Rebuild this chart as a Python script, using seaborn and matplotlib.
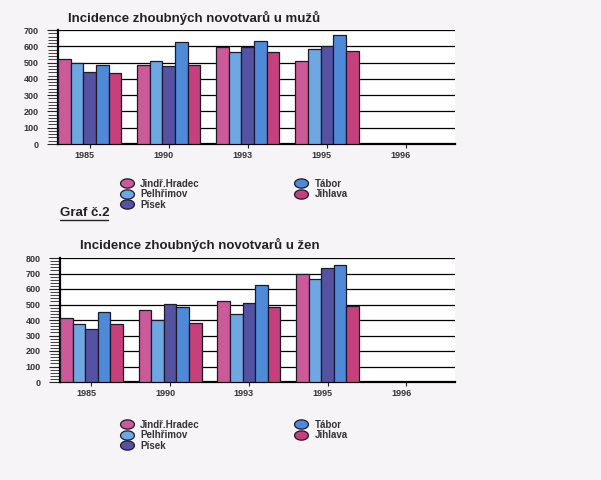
import numpy as np
import pandas as pd
import seaborn as sb
import matplotlib.pyplot as plt
import matplotlib.transforms as mtransforms
from matplotlib.lines import Line2D
from matplotlib.path import Path

years = ['1985', '1990', '1993', '1995', '1996']
districts = ['Jindř.Hradec', 'Pelhřimov', 'Písek', 'Tábor', 'Jihlava']
colors = ['#cc5a98', '#6ea8e2', '#5552a4', '#4e8ad8', '#c6407c']

# values per district, years 1985, 1990, 1993, 1995 (1996 empty)
men_jh = [524, 488, 594, 512]
men_pe = [498, 510, 563, 586]
men_pi = [443, 482, 596, 600]
men_ta = [484, 624, 635, 671]
men_ji = [437, 488, 565, 573]

women_jh = [414, 462, 523, 697]
women_pe = [372, 402, 438, 665]
women_pi = [342, 504, 508, 735]
women_ta = [449, 483, 628, 756]
women_ji = [372, 378, 483, 491]

def long_df(series):
    rows = []
    for name, vals in zip(districts, series):
        for y, v in zip(years, vals):
            rows.append({'Rok': y, 'Okres': name, 'Incidence': v})
    return pd.DataFrame(rows)

df_men = long_df([men_jh, men_pe, men_pi, men_ta, men_ji])
df_women = long_df([women_jh, women_pe, women_pi, women_ta, women_ji])

sb.set_style('white')
plt.rcParams['font.family'] = ['Liberation Sans', 'DejaVu Sans']

fig = plt.figure(figsize=(6.01, 4.8), dpi=100)
fig.patch.set_facecolor('#f6f4f7')

ax1 = fig.add_axes([58 / 601, 1 - 144 / 480, 397 / 601, 114 / 480])
ax2 = fig.add_axes([60 / 601, 1 - 382 / 480, 395 / 601, 124 / 480])

def draw(ax, df, ymax):
    sb.barplot(data=df, x='Rok', y='Incidence', hue='Okres', order=years,
               hue_order=districts, palette=colors, saturation=1,
               edgecolor='#1a1a2a', linewidth=0.9, legend=False, ax=ax,
               zorder=3)
    ax.set_facecolor('white')
    ax.set_xlim(-0.4, 4.62)
    ax.set_ylim(0, ymax)
    ax.set_yticks(np.arange(0, ymax + 1, 100))
    ax.set_yticks(np.arange(0, ymax + 1, 20), minor=True)
    ax.yaxis.grid(True, color='black', linewidth=0.9, zorder=0)
    ax.set_axisbelow(True)
    ax.set_xlabel('')
    ax.set_ylabel('')
    for s in ['top', 'right']:
        ax.spines[s].set_visible(False)
    ax.spines['left'].set_linewidth(1.6)
    ax.spines['bottom'].set_linewidth(1.6)
    ax.spines['left'].set_color('black')
    ax.spines['bottom'].set_color('black')
    ax.tick_params(axis='y', which='major', length=8, width=0.8, labelsize=6.5,
                   pad=6, left=True, direction='out')
    ax.tick_params(axis='y', which='minor', length=7, width=0.6, left=True,
                   direction='out')
    ax.tick_params(axis='x', length=3, width=0.8, labelsize=6.5, pad=2,
                   bottom=True, direction='out')
    off = mtransforms.ScaledTranslation(-5 / 100, 0, fig.dpi_scale_trans)
    for lab in ax.get_xticklabels():
        lab.set_transform(lab.get_transform() + off)
        lab.set_fontweight('bold')
        lab.set_color('#333333')
    for lab in ax.get_yticklabels():
        lab.set_fontweight('bold')
        lab.set_color('#333333')

draw(ax1, df_men, 700)
draw(ax2, df_women, 800)

fig.text(68 / 601, 1 - 18 / 480, 'Incidence zhoubných novotvarů u mužů',
         fontsize=9.5, fontweight='bold', color='#222222', va='center')
fig.text(80 / 601, 1 - 245 / 480, 'Incidence zhoubných novotvarů u žen',
         fontsize=9.5, fontweight='bold', color='#222222', va='center')

fig.text(60 / 601, 1 - 213 / 480, 'Graf č.2', fontsize=9.5,
         fontweight='bold', color='#222222', va='center')
fig.add_artist(Line2D([60 / 601, 108 / 601], [1 - 220 / 480, 1 - 220 / 480],
                      color='#222222', linewidth=1.0, transform=fig.transFigure))

t = np.linspace(0, 2 * np.pi, 40)
ellipse = Path(np.column_stack([1.5 * np.cos(t), np.sin(t)]))

def legend(ypix):
    handles = [Line2D([], [], linestyle='none', marker=ellipse, markersize=10,
                      markerfacecolor=c, markeredgecolor='#1a1a2a',
                      markeredgewidth=0.9, label=n)
               for n, c in zip(districts, colors)]
    leg = fig.legend(handles=handles, ncol=2, loc='upper left',
                     bbox_to_anchor=(116 / 601, 1 - ypix / 480),
                     frameon=False, fontsize=7, handlelength=1.2,
                     handletextpad=0.8, columnspacing=9.8, labelspacing=0.05,
                     borderpad=0)
    for txt in leg.get_texts():
        txt.set_fontweight('bold')
        txt.set_color('#333333')

legend(174)
legend(415)

plt.savefig('out.png', dpi=100, facecolor=fig.get_facecolor())
